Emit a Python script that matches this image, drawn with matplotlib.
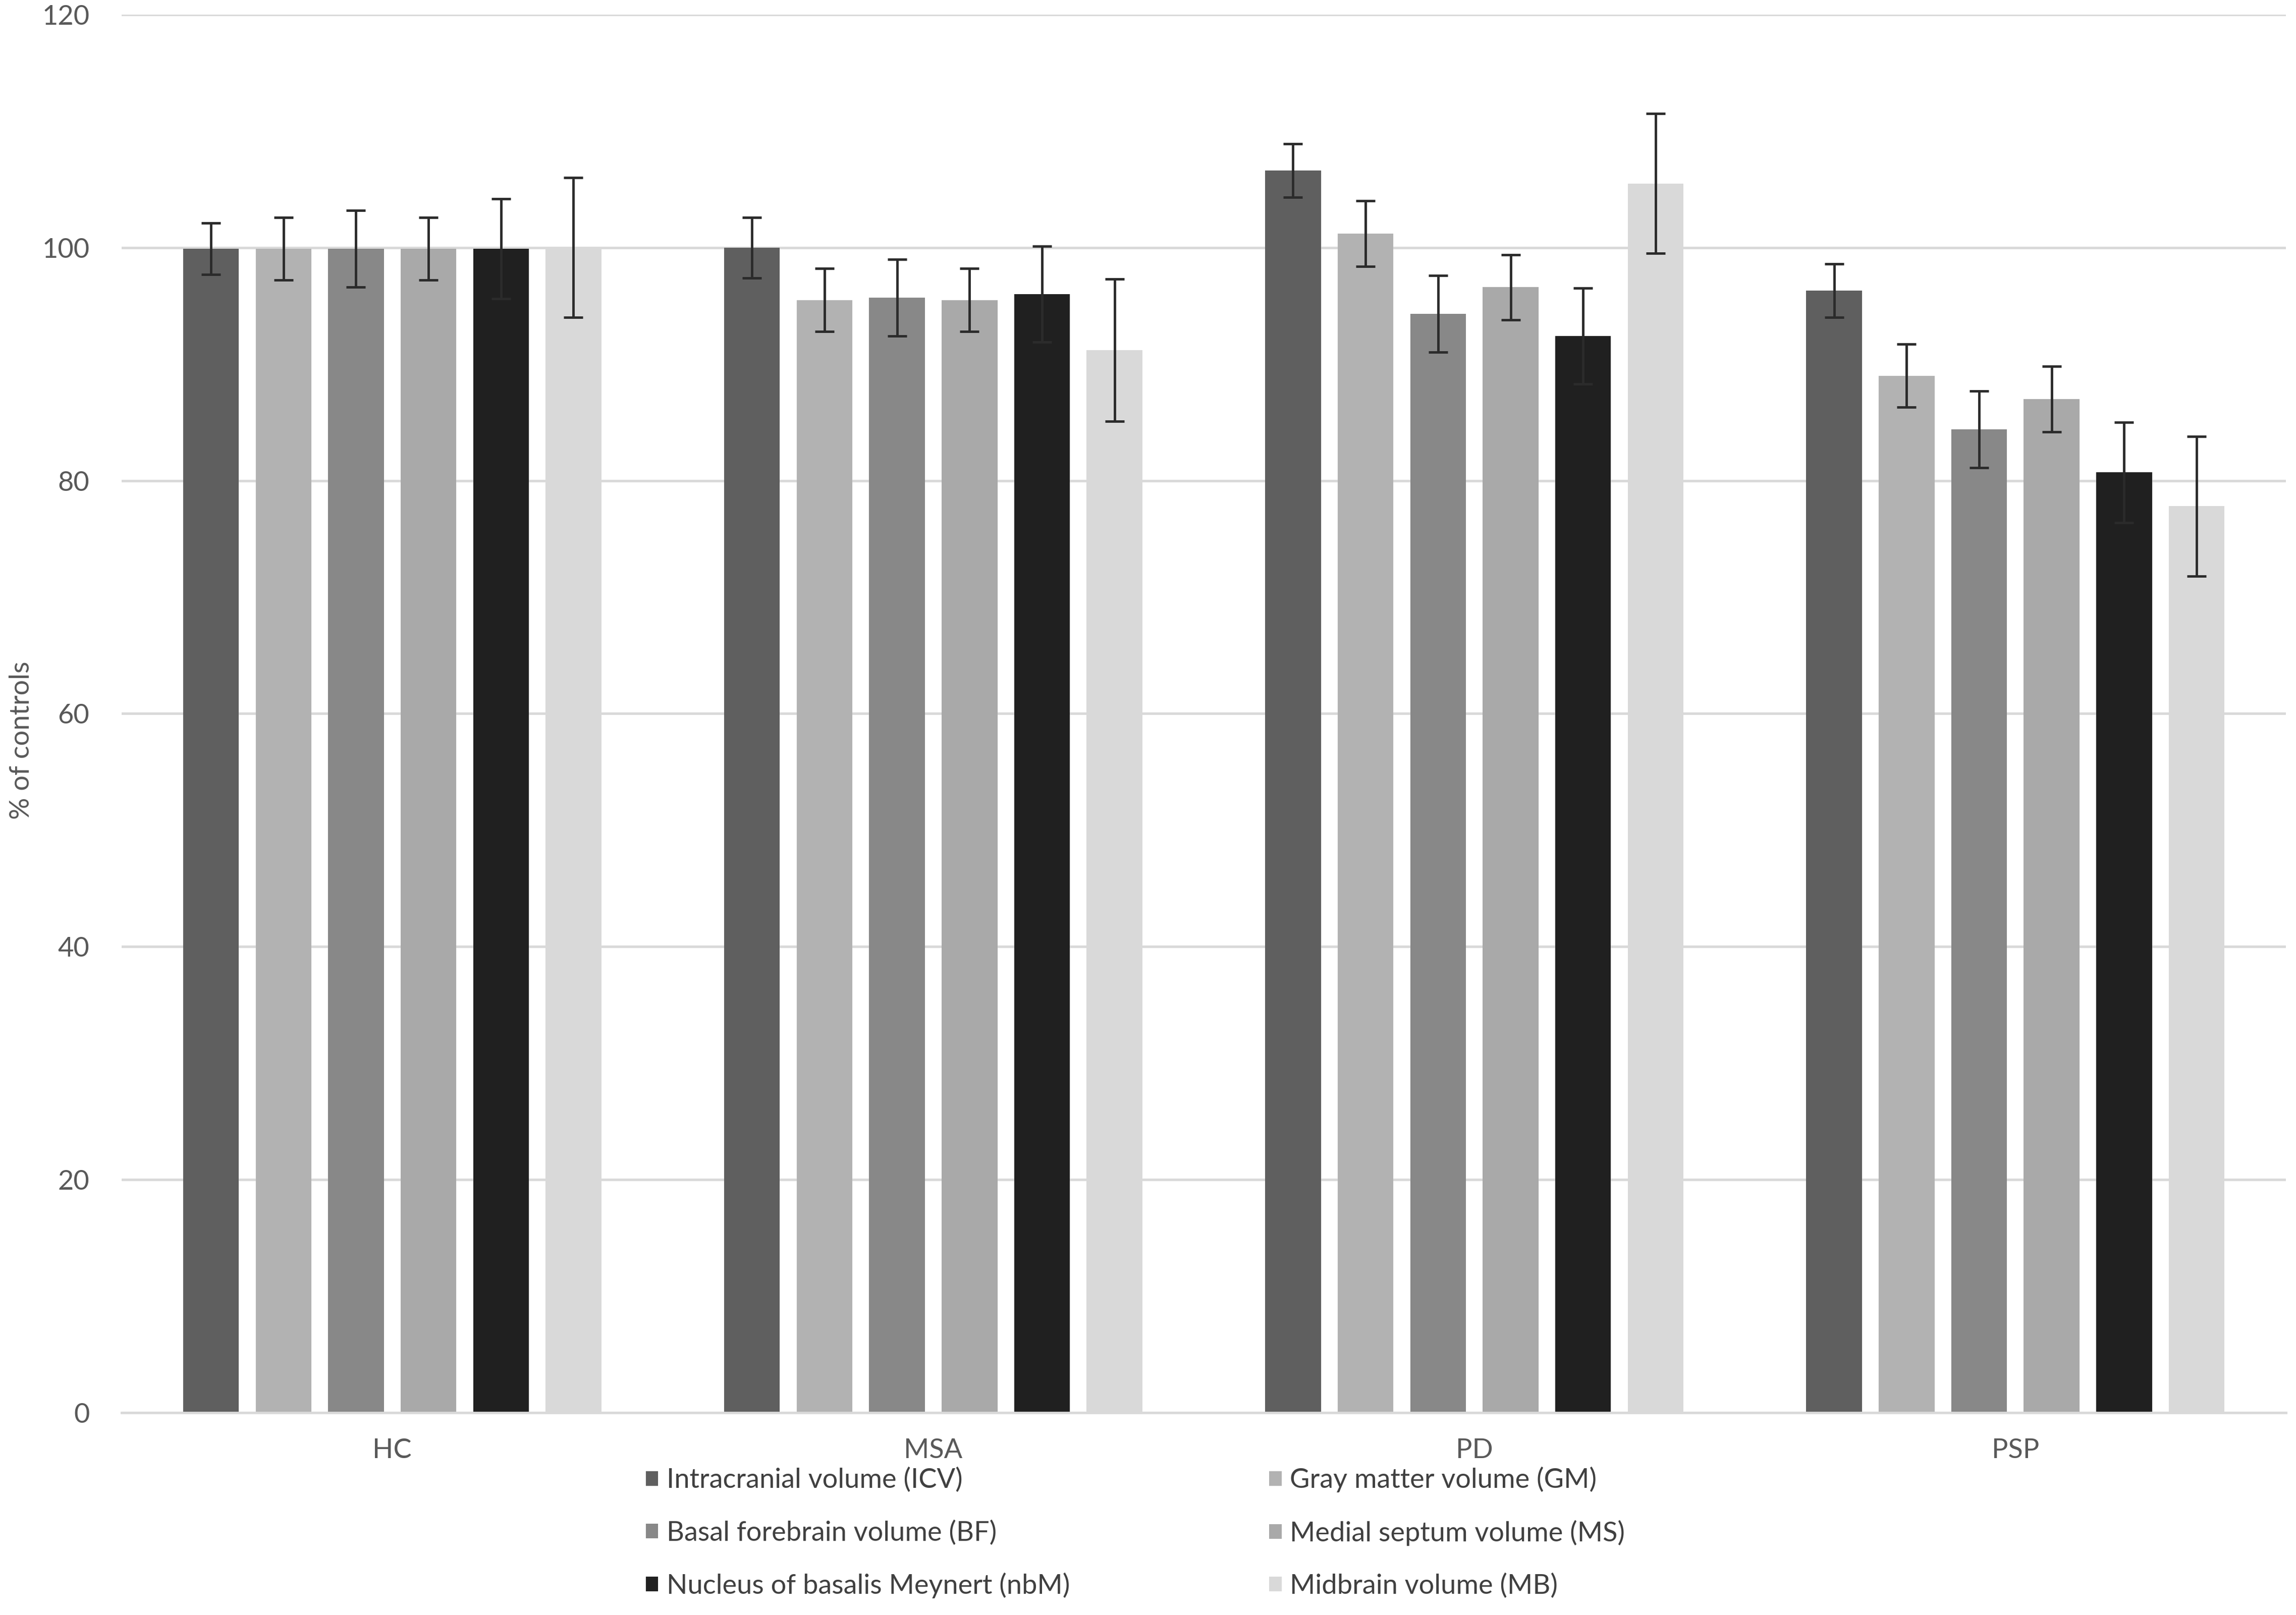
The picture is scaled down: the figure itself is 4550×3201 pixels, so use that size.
import matplotlib.pyplot as plt
import numpy as np

groups = ['HC', 'MSA', 'PD', 'PSP']
labels = ['Intracranial volume (ICV)', 'Gray matter volume (GM)',
          'Basal forebrain volume (BF)', 'Medial septum volume (MS)',
          'Nucleus of basalis Meynert (nbM)', 'Midbrain volume (MB)']
colors = ['#5f5f5f', '#b2b2b2', '#888888', '#a9a9a9', '#202020', '#d9d9d9']

# mean % of controls per measure, order: HC, MSA, PD, PSP
icv = [99.9, 100.0, 106.6, 96.3]
gm = [99.9, 95.5, 101.2, 89.0]
bf = [99.9, 95.7, 94.3, 84.4]
ms = [99.9, 95.5, 96.6, 87.0]
nbm = [99.9, 96.0, 92.4, 80.7]
mb = [100.0, 91.2, 105.5, 77.8]

icv_err = [2.2, 2.6, 2.3, 2.3]
gm_err = [2.7, 2.7, 2.8, 2.7]
bf_err = [3.3, 3.3, 3.3, 3.3]
ms_err = [2.7, 2.7, 2.8, 2.8]
nbm_err = [4.3, 4.1, 4.1, 4.3]
mb_err = [6.0, 6.1, 6.0, 6.0]

series = [icv, gm, bf, ms, nbm, mb]
errors = [icv_err, gm_err, bf_err, ms_err, nbm_err, mb_err]

plt.rcParams['font.family'] = ['Lato', 'DejaVu Sans']
fs = 39

fig = plt.figure(figsize=(45.5, 32.01), dpi=100)
ax = fig.add_axes([0.053, 0.1253, 0.9426, 0.8657])

x = np.arange(len(groups))
width = 0.103
step = 0.134
bars = []
for i, (vals, errs) in enumerate(zip(series, errors)):
    pos = x + (i - 2.5) * step
    b = ax.bar(pos, vals, width, color=colors[i], label=labels[i], zorder=2)
    ax.errorbar(pos, vals, yerr=errs, fmt='none', ecolor='#2b2b2b',
                elinewidth=3.5, capsize=14, capthick=3.5, zorder=3)
    bars.append(b)

ax.set_xlim(-0.5, 3.5)
ax.set_ylim(0, 120)
ax.set_yticks(np.arange(0, 121, 20))
ax.yaxis.grid(True, color='#d9d9d9', linewidth=3.5, zorder=0)
ax.set_axisbelow(True)
for s in ['top', 'right', 'left']:
    ax.spines[s].set_visible(False)
ax.spines['bottom'].set_color('#d9d9d9')
ax.spines['bottom'].set_linewidth(3.5)
ax.tick_params(axis='both', length=0, labelsize=fs, colors='#595959')
ax.tick_params(axis='y', pad=46)
ax.tick_params(axis='x', pad=36)
ax.set_xticks(x)
ax.set_xticklabels(groups)
ax.set_ylabel('% of controls', fontsize=fs, color='#595959')
ax.yaxis.set_label_coords(-0.0405, 0.481)

order = [0, 2, 4, 1, 3, 5]
fig.legend([bars[i] for i in order], [labels[i] for i in order],
           loc='upper center', bbox_to_anchor=(0.4945, 0.107), ncol=2,
           frameon=False, fontsize=fs, labelcolor='#404040',
           handlelength=0.45, handleheight=0.45, handletextpad=0.3,
           labelspacing=1.0, columnspacing=7.3)

fig.savefig('out.png', dpi=100)
